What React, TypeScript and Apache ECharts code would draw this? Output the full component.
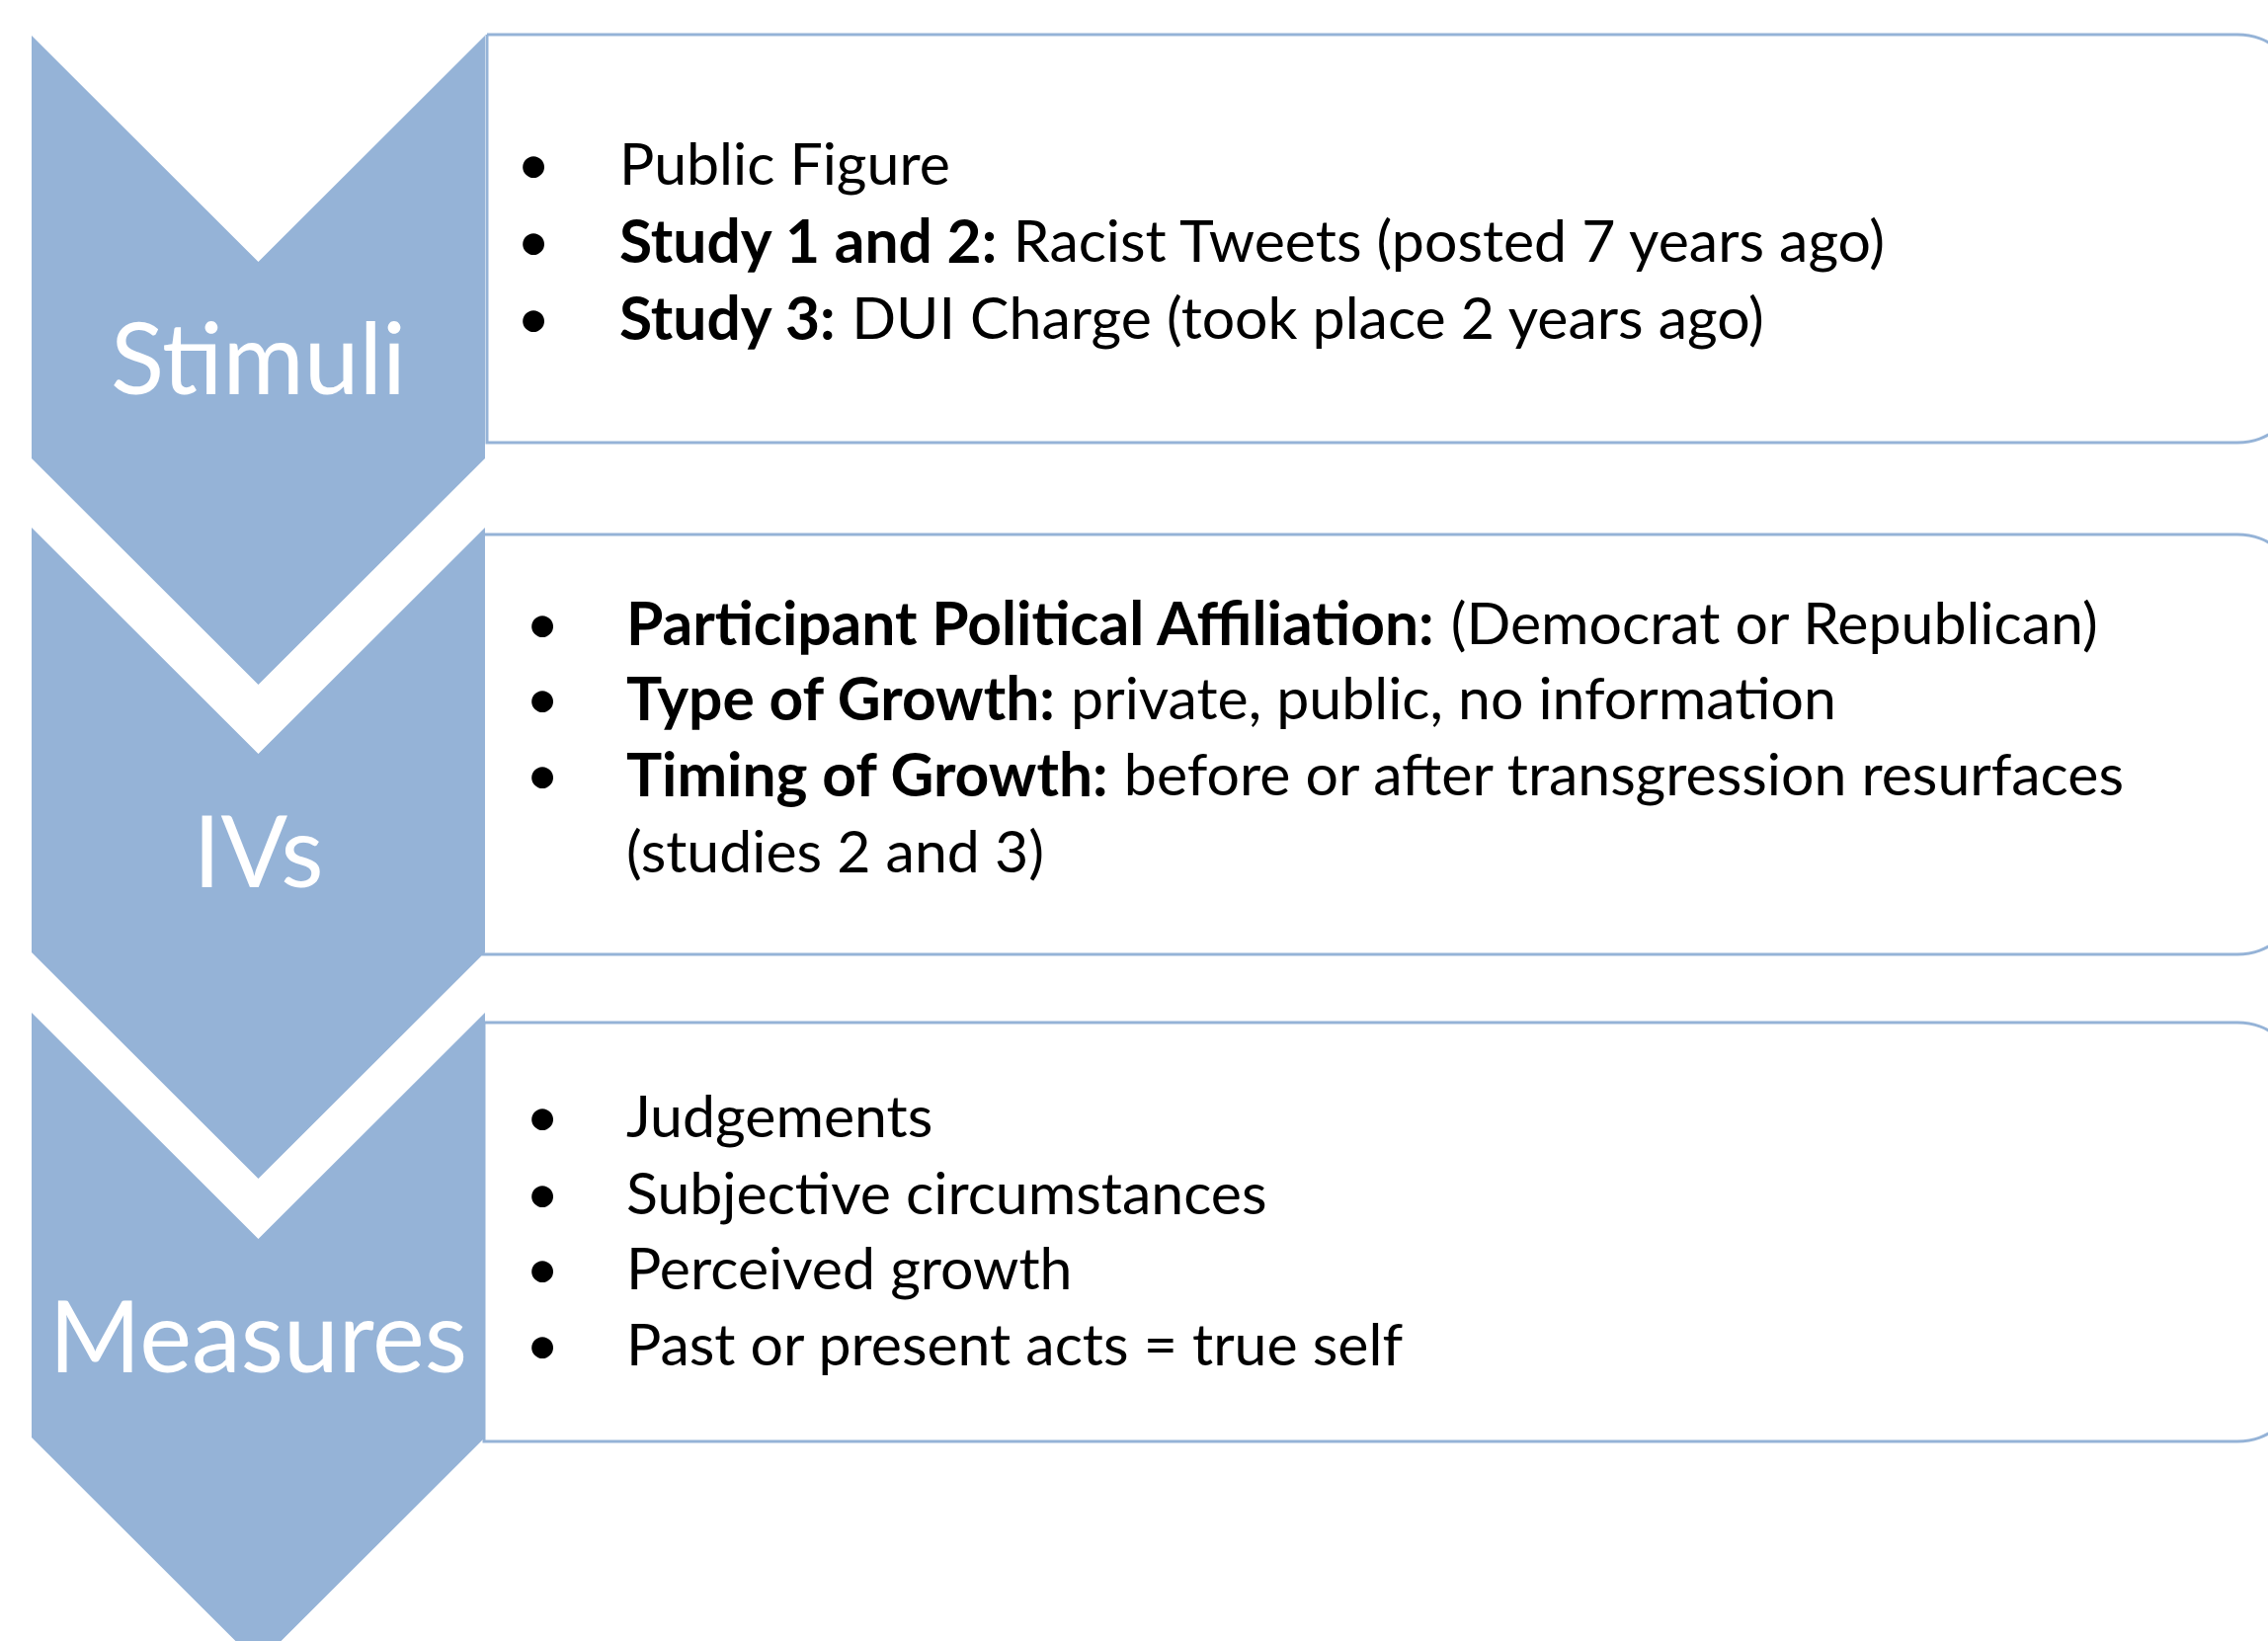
import React, { useEffect, useRef } from "react";
import * as echarts from "echarts";

// ---- content ----
const stageLabels = ["Stimuli", "IVs", "Measures"];

// each item: [bold prefix, regular text, hasBullet]
const stimuliItems: [string, string, boolean][] = [
  ["", "Public Figure", true],
  ["Study 1 and 2:", " Racist Tweets (posted 7 years ago)", true],
  ["Study 3:", " DUI Charge (took place 2 years ago)", true],
];
const ivItems: [string, string, boolean][] = [
  ["Participant Political Affiliation:", " (Democrat or Republican)", true],
  ["Type of Growth:", " private, public, no information", true],
  ["Timing of Growth:", " before or after transgression resurfaces", true],
  ["", "(studies 2 and 3)", false],
];
const measureItems: [string, string, boolean][] = [
  ["", "Judgements", true],
  ["", "Subjective circumstances", true],
  ["", "Perceived growth", true],
  ["", "Past or present acts = true self", true],
];
const stageItems = [stimuliItems, ivItems, measureItems];

// ---- layout ----
const FILL = "#95B3D7";
const FONT = "Lato, 'Open Sans', sans-serif";
const X0 = 32;
const X1 = 491;
const CX = (X0 + X1) / 2;
const DEPTH = 229;
const chevTop = [36, 534, 1025];
const chevBottom = [464, 964, 1455];
const labelCenterY = [360, 859, 1350];
const boxLeft = [493, 489, 490];
const boxTop = [35, 541, 1035];
const boxBottom = [448, 966, 1459];
const BOX_RIGHT = 2330;
const bulletX = [540, 549, 549];
const textX = [627, 634, 634];
const lineY = [
  [164, 242, 320],
  [629, 705, 782, 860],
  [1128, 1206, 1282, 1359],
];
const LABEL_SIZE = 100;
const BODY_SIZE = 59;
const BOLD_SIZE = 60.5;

export default function App() {
  const ref = useRef<HTMLDivElement>(null);
  useEffect(() => {
    document.body.style.margin = "0";
    const chart = echarts.init(ref.current!, null, { renderer: "svg" });
    const elements: any[] = [];
    // boxes
    for (let i = 0; i < 3; i++) {
      elements.push({
        type: "rect",
        shape: {
          x: boxLeft[i],
          y: boxTop[i],
          width: BOX_RIGHT - boxLeft[i],
          height: boxBottom[i] - boxTop[i],
          r: [0, 65, 65, 0],
        },
        style: { fill: "#fff", stroke: FILL, lineWidth: 3 },
      });
    }
    // chevrons
    for (let i = 0; i < 3; i++) {
      const t = chevTop[i];
      const b = chevBottom[i];
      elements.push({
        type: "polygon",
        shape: {
          points: [
            [X0, t],
            [CX, t + DEPTH],
            [X1, t],
            [X1, b],
            [CX, b + DEPTH],
            [X0, b],
          ],
        },
        style: { fill: FILL },
      });
      elements.push({
        type: "text",
        x: CX,
        y: labelCenterY[i],
        style: {
          text: stageLabels[i],
          fontSize: LABEL_SIZE,
          fontFamily: FONT,
          fill: "#ffffff",
          align: "center",
          verticalAlign: "middle",
        },
      });
    }
    // bullet texts
    for (let i = 0; i < 3; i++) {
      stageItems[i].forEach((item, j) => {
        const [bold, reg, hasBullet] = item;
        const y = lineY[i][j];
        if (hasBullet) {
          elements.push({
            type: "text",
            x: bulletX[i],
            y,
            style: {
              text: "•",
              fontSize: BODY_SIZE,
              fontFamily: FONT,
              fill: "#000",
              align: "center",
              verticalAlign: "middle",
            },
          });
        }
        const txt = bold ? `{b|${bold}}{r|${reg}}` : `{r|${reg}}`;
        elements.push({
          type: "text",
          x: textX[i],
          y,
          style: {
            text: txt,
            fontSize: BODY_SIZE,
            fontFamily: FONT,
            fill: "#000",
            align: "left",
            verticalAlign: "middle",
            rich: {
              b: { fontWeight: "bold", fontSize: BOLD_SIZE, fontFamily: FONT, fill: "#000" },
              r: { fontWeight: "normal", fontSize: BODY_SIZE, fontFamily: FONT, fill: "#000" },
            },
          },
        });
      });
    }
    chart.setOption({
      animation: false,
      backgroundColor: "#ffffff",
      graphic: { elements },
    });
    return () => chart.dispose();
  }, []);
  return <div ref={ref} style={{ width: 2296, height: 1661 }} />;
}
